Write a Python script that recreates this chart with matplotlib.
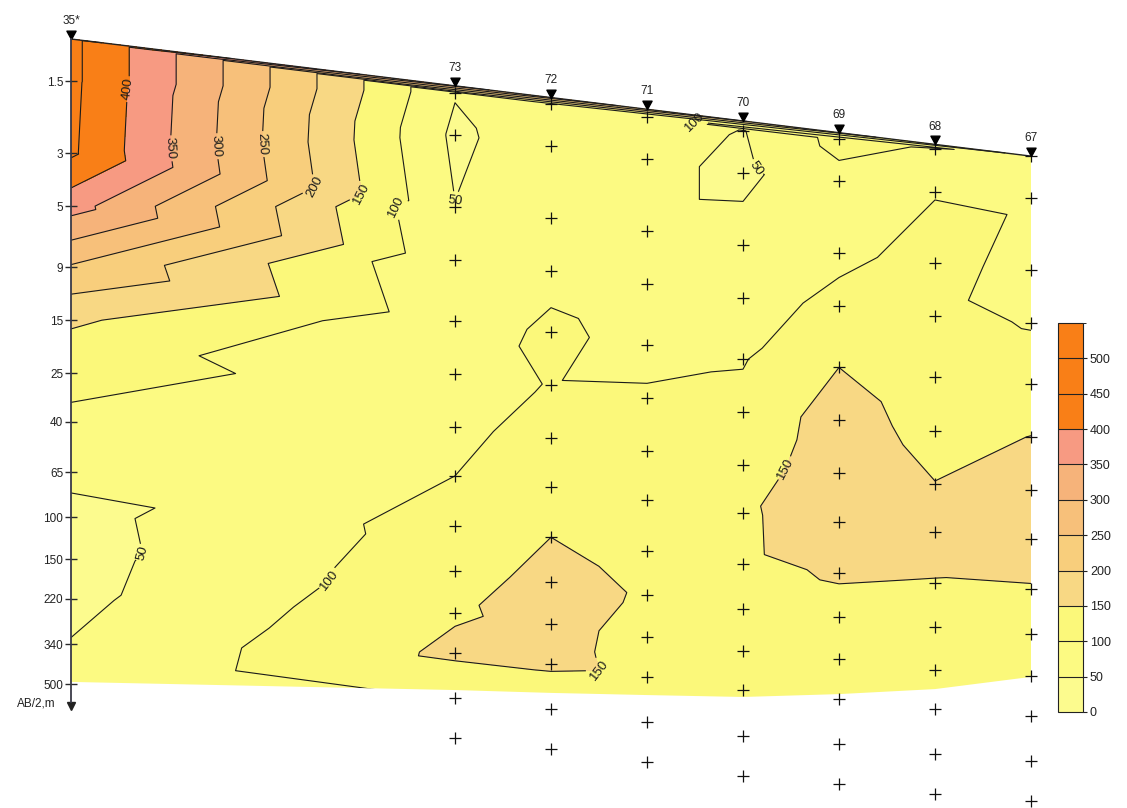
import numpy as np
import matplotlib
matplotlib.use("Agg")
import matplotlib.pyplot as plt
import matplotlib.tri as mtri
from matplotlib.colors import ListedColormap, BoundaryNorm
from matplotlib.path import Path

plt.rcParams['font.family'] = ['Liberation Sans', 'DejaVu Sans']

# ---- survey data -------------------------------------------------------
stations = ['35*', '73', '72', '71', '70', '69', '68', '67']
station_dist = [0, 400, 500, 600, 700, 800, 900, 1000]          # m along the line
relief = [0.0, 0.226, 0.272, 0.328, 0.383, 0.420, 0.462, 0.490]  # section shift, log units
ab2 = [1, 1.5, 3, 5, 9, 15, 25, 40, 65, 100, 150, 220, 340, 500]  # AB/2, m
depth_ticks = [1.5, 3, 5, 9, 15, 25, 40, 65, 100, 150, 220, 340, 500]
section_base = [2.690, 2.724, 2.736, 2.745, 2.753, 2.741, 2.720, 2.669]

# apparent resistivity, Ohm*m, one list per sounding (same order as ab2)
rho_35 = [462, 462, 458, 370, 245, 157, 115, 90, 62, 36, 34, 38, 52, 55]
rho_73 = [53, 40, 51, 60, 70, 80, 90, 100, 120, 130, 145, 160, 103, 95]
rho_72 = [85, 80, 75, 85, 110, 102, 115, 125, 150, 165, 162, 160, 100, 95]
rho_71 = [95, 62, 62, 75, 85, 106, 118, 128, 135, 146, 138, 140, 130, 125]
rho_70 = [48, 40, 65, 80, 97, 112, 118, 141, 140, 130, 125, 122, 120, 118]
rho_69 = [115, 85, 90, 112, 150, 175, 190, 185, 155, 135, 130, 125, 120, 115]
rho_68 = [95, 98, 115, 108, 118, 130, 151, 170, 148, 130, 125, 122, 120, 118]
rho_67 = [90, 95, 85, 98, 115, 151, 165, 165, 148, 135, 130, 125, 120, 118]

fill_levels = list(range(0, 551, 50))
line_levels = list(range(50, 501, 50))
label_levels = list(range(50, 401, 50))
bar_ticks = list(range(0, 501, 50))
fill_colors = ['#FCFB8E', '#FCFA82', '#FBF87A', '#F8D884', '#F8CE7C',
               '#F7C07A', '#F6B37A', '#F79A82', '#F97F17', '#F97F17', '#F97F17']

# ---- geometry of the section -------------------------------------------
rho = np.array([rho_35, rho_73, rho_72, rho_71, rho_70, rho_69, rho_68, rho_67], float)
dist = np.asarray(station_dist, float)
shift = np.asarray(relief, float)
logab = np.log10(ab2)

X = np.repeat(dist, len(ab2))
Y = (logab[None, :] + shift[:, None]).ravel()
Z = rho.ravel()

PX_PER_M = 0.96
PX_PER_DEC = 239.0
# Delaunay on an isotropic (screen-like) scaling, linear interpolation per triangle
base_tri = mtri.Triangulation(X * PX_PER_M, Y * PX_PER_DEC)
tri = mtri.Triangulation(X, Y, triangles=base_tri.triangles)

fig = plt.figure(figsize=(11.27, 8.08), dpi=100)
ax = fig.add_axes([0, 0, 1, 1])
ax.set_xlim(-71 / PX_PER_M, (1127 - 71) / PX_PER_M)
ax.set_ylim((808 - 39) / PX_PER_DEC, -39 / PX_PER_DEC)

cmap = ListedColormap(fill_colors)
norm = BoundaryNorm(fill_levels, cmap.N)

cf = ax.tricontourf(tri, Z, levels=fill_levels, cmap=cmap, norm=norm, zorder=1)
cs = ax.tricontour(tri, Z, levels=line_levels, colors='#1a1a1a',
                   linewidths=0.8, zorder=2)

# blank everything below the base of the section
verts = [(dist[0], -1.0), (dist[-1], -1.0)]
verts += list(zip(dist[::-1], np.asarray(section_base)[::-1]))
verts.append((dist[0], -1.0))
clip = Path(verts, closed=True)
cf.set_clip_path(clip, ax.transData)
cs.set_clip_path(clip, ax.transData)

labels = ax.clabel(cs, levels=label_levels, fmt='%d', fontsize=9.5,
                   inline=True, inline_spacing=2)
for t in labels:
    t.set_clip_path(clip, ax.transData)

# ground surface along the top of the section
top_y = [Y[0], Y[(len(dist) - 1) * len(ab2)]]
ax.plot([dist[0], dist[-1]], top_y, color='#222222', lw=1.0, zorder=3)

# sounding points
for i in range(1, len(dist)):
    ax.plot(np.full(len(ab2), dist[i]), logab + shift[i], ls='none',
            marker='+', ms=8, mew=0.9, color='#111111', zorder=5)

# station markers on the surface
surf = np.interp(dist, [dist[0], dist[-1]], top_y)
tip_down = Path([(-0.55, 1.0), (0.55, 1.0), (0.0, 0.0), (-0.55, 1.0)], closed=True)
for name, d, s in zip(stations, dist, surf):
    ax.plot([d], [s], ls='none', marker=tip_down, ms=12, color='black',
            zorder=6, clip_on=False)
    ax.annotate(name, (d, s), xytext=(0, 8.5), textcoords='offset points',
                ha='center', va='bottom', fontsize=8.5, color='#222222')

# AB/2 axis at the first sounding
for side in ('top', 'right', 'bottom'):
    ax.spines[side].set_visible(False)
ax.spines['left'].set_position(('data', dist[0]))
ax.spines['left'].set_bounds(0, 2.775)
ax.spines['left'].set_color('#3a3a48')
ax.spines['left'].set_linewidth(1.3)
ax.spines['left'].set_zorder(7)
ax.set_xticks([])
ax.set_yticks(np.log10(depth_ticks))
ax.set_yticklabels([f'{v:g}' for v in depth_ticks])
ax.tick_params(axis='y', direction='inout', length=9, width=1.0,
               color='#2a2a2a', labelsize=8.5, labelcolor='#222222', pad=1)
ax.plot([dist[0]], [2.79], marker='v', ms=6, color='#222222', clip_on=False, zorder=7)
ax.text(-16, 2.78, 'AB/2,m', ha='right', va='center', fontsize=8.5, color='#222222')

# colour scale
cax = fig.add_axes([1058 / 1127, (808 - 712) / 808, 25 / 1127, 389 / 808])
cb = fig.colorbar(cf, cax=cax, ticks=bar_ticks, drawedges=True)
cb.outline.set_linewidth(0.8)
cb.outline.set_edgecolor('#222222')
cb.dividers.set_color('#222222')
cb.dividers.set_linewidth(0.8)
cax.tick_params(length=3, width=0.8, labelsize=9, pad=2, colors='#222222')

fig.savefig('out.png', dpi=100, facecolor='white')
